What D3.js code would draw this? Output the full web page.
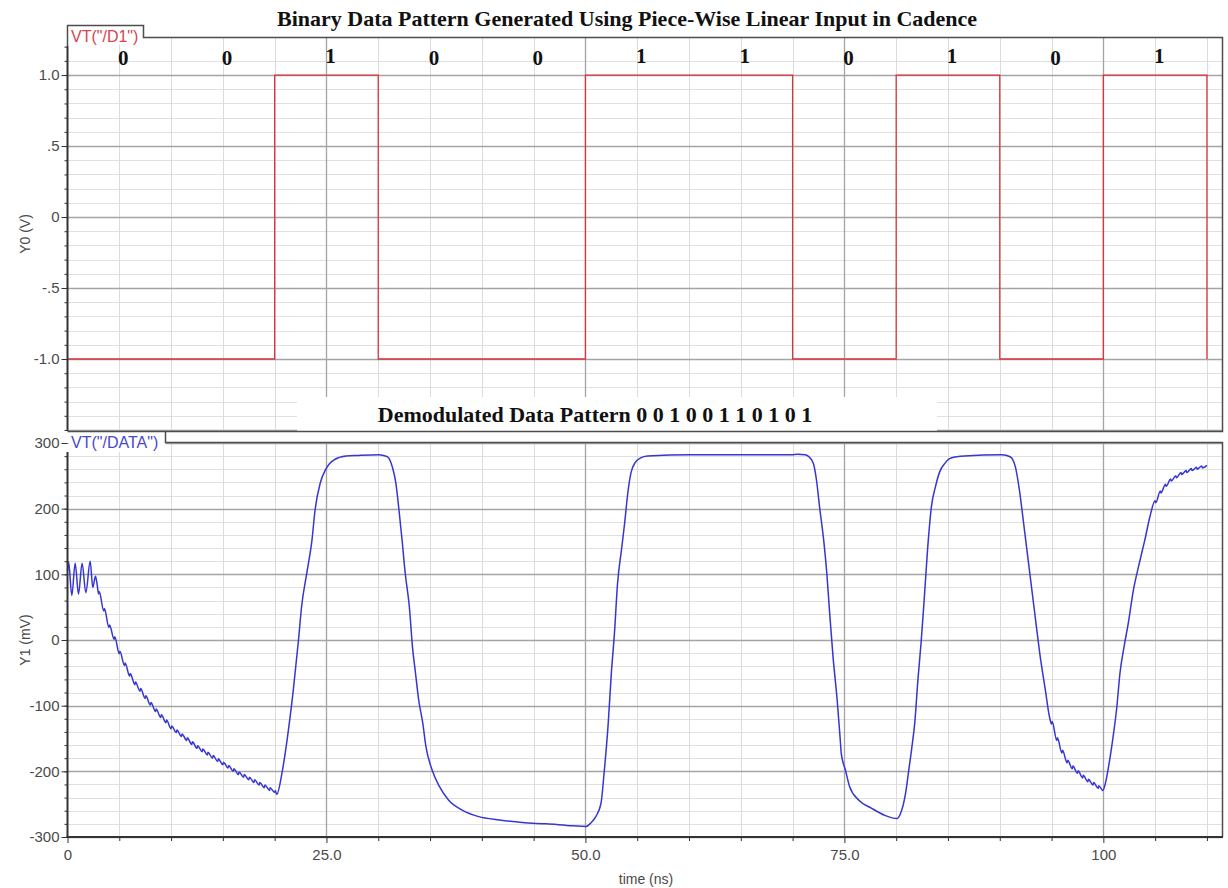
<!DOCTYPE html>
<html>
<head>
<meta charset="utf-8">
<script src="https://cdn.jsdelivr.net/npm/d3@7"></script>
<style>
  body { margin: 0; background: #ffffff; }
  svg { display: block; }
  .tick-label { font-family: "Liberation Sans", Arial, sans-serif; font-size: 15px; fill: #4a4a4a; }
  .axis-title { font-family: "Liberation Sans", Arial, sans-serif; font-size: 14px; fill: #4a4a4a; }
  .serif-bold { font-family: "Liberation Serif", "Times New Roman", serif; font-weight: bold; fill: #111; }
</style>
</head>
<body>
<svg id="chart" width="1228" height="888"></svg>
<script>
// ---- Stimulus: piece-wise linear source VT("/D1") ----
const d1Time  = [0, 20, 20, 30, 30, 50, 50, 70, 70, 80, 80, 90, 90, 100, 100, 110, 110];
const d1Volts = [-1, -1, 1, 1, -1, -1, 1, 1, -1, -1, 1, 1, -1, -1, 1, 1, -1];

// Bit sequence carried by the stimulus (one bit per 10 ns slot)
const bits = [0, 0, 1, 0, 0, 1, 1, 0, 1, 0, 1];
const bitSlotNs = 10;

// ---- Demodulated output VT("/DATA"): [time (ns), value (mV)] ----
const dataTrace = [
  [0.0, 105], [0.1, 119], [0.42, 68], [0.74, 117], [1.06, 70], [1.41, 117], [1.77, 72],
  [2.19, 120], [2.44, 80], [2.7, 97], [2.85, 86],
  [3.0, 70], [3.06, 74], [3.5, 44], [3.56, 48], [4.0, 19], [4.06, 23], [4.5, 1], [4.56, 5],
  [5.0, -21], [5.06, -17], [5.5, -39], [5.56, -35], [6.0, -55], [6.06, -51], [6.5, -68], [6.56, -64],
  [7.0, -78], [7.06, -74], [7.5, -89], [7.56, -85], [8.0, -99], [8.06, -95], [8.5, -109], [8.56, -105],
  [9.0, -118], [9.06, -114], [9.5, -126], [9.56, -122], [10.0, -135], [10.06, -131], [10.5, -141], [10.56, -137],
  [11.0, -147], [11.06, -143], [11.5, -153], [11.56, -149], [12.0, -159], [12.06, -155], [12.5, -165], [12.56, -161],
  [13.0, -170], [13.06, -166], [13.5, -175], [13.56, -171], [14.0, -180], [14.06, -176], [14.5, -185], [14.56, -181],
  [15.0, -190], [15.06, -186], [15.5, -195], [15.56, -191], [16.0, -200], [16.06, -196], [16.5, -205], [16.56, -201],
  [17.0, -209], [17.06, -205], [17.5, -213], [17.56, -209], [18.0, -217], [18.06, -213], [18.5, -221], [18.56, -217],
  [19.0, -225], [19.06, -221], [19.5, -229], [19.56, -225], [20.0, -232], [20.06, -229], [20.2, -235],
  [20.7, -203], [21.2, -152], [21.8, -76], [22.3, 0], [22.6, 51], [23.1, 102], [23.6, 152], [23.9, 198],
  [24.4, 239], [24.9, 259], [25.7, 274], [26.9, 280], [28.1, 281], [30.06, 282], [30.5, 281], [30.9, 279],
  [31.35, 264], [31.7, 239], [32.0, 198], [32.3, 152], [32.6, 102], [33.0, 51], [33.3, -10], [33.6, -51],
  [33.9, -91], [34.3, -127], [34.6, -162], [35.2, -198], [35.9, -223], [36.8, -244], [38.1, -259], [39.7, -269],
  [41.7, -274], [43.9, -278], [46.2, -280], [48.8, -283], [50.06, -284], [50.5, -279], [51.0, -269], [51.5, -249],
  [51.8, -203], [52.2, -127], [52.5, -51], [52.8, 10], [53.1, 86], [53.5, 140], [53.8, 180], [54.1, 225],
  [54.4, 255], [54.8, 270], [55.3, 277], [56.0, 280], [60.2, 282], [65.0, 282], [69.9, 282], [70.5, 283],
  [71.2, 282], [71.5, 280], [72.0, 269], [72.3, 244], [72.6, 203], [73.0, 152], [73.3, 102], [73.6, 36],
  [73.9, -25], [74.3, -91], [74.6, -152], [74.7, -173], [75.1, -198], [75.5, -223], [76.4, -244], [77.6, -256],
  [78.9, -267], [80.06, -272], [80.4, -265], [80.9, -234], [81.2, -200], [81.5, -165], [81.8, -125], [82.1, -60],
  [82.4, -5], [82.7, 61], [83.1, 152], [83.4, 203], [83.8, 234], [84.2, 256], [84.7, 269], [85.3, 277],
  [86.6, 280], [90.2, 282], [91.0, 279], [91.5, 264], [91.9, 228], [92.3, 178], [92.7, 127], [93.1, 76],
  [93.5, 25], [93.9, -25], [94.4, -76], [94.8, -117],
  [95.0, -128], [95.06, -124], [95.5, -153], [95.56, -149], [96.0, -172], [96.06, -168], [96.5, -187], [96.56, -183],
  [97.0, -196], [97.06, -192], [97.5, -203], [97.56, -199], [98.0, -210], [98.06, -206], [98.5, -216], [98.56, -212],
  [99.0, -221], [99.06, -217], [99.5, -226], [99.56, -222], [99.95, -229],
  [100.2, -218], [100.5, -193], [100.9, -152], [101.3, -102], [101.6, -51], [102.0, -10], [102.4, 25],
  [102.9, 76], [103.4, 112], [104.0, 152], [104.5, 188],
  [105.0, 212], [105.06, 209], [105.5, 227], [105.56, 224],
  [106.0, 237], [106.06, 234], [106.5, 245], [106.56, 242], [107.0, 250], [107.06, 247], [107.5, 255], [107.56, 252],
  [108.0, 258], [108.06, 255], [108.5, 261], [108.56, 258], [109.0, 263], [109.06, 260], [109.5, 265], [109.56, 262],
  [110.0, 266]
];

// ---- Axis ticks ----
const xTicks = [0, 25, 50, 75, 100];
const xTickLabels = ["0", "25.0", "50.0", "75.0", "100"];
const yTopTicks = [1.0, 0.5, 0, -0.5, -1.0];
const yTopTickLabels = ["1.0", ".5", "0", "-.5", "-1.0"];
const yBotTicks = [300, 200, 100, 0, -100, -200, -300];
const yBotTickLabels = ["300", "200", "100", "0", "-100", "-200", "-300"];

const mainTitle = "Binary Data Pattern Generated Using Piece-Wise Linear Input in Cadence";
const subTitle = "Demodulated Data Pattern " + bits.join(" ");

// ---- Layout ----
const left = 67.5, right = 1223;
const topBox = { y0: 37, y1: 431 };
const botBox = { y0: 442, y1: 837 };

const svg = d3.select("#chart");

const x = d3.scaleLinear().domain([0, 111.55]).range([left, right]);
const yTop = d3.scaleLinear().domain([-1.507, 1.268]).range([topBox.y1, topBox.y0]);
const yBot = d3.scaleLinear().domain([-300, 301.5]).range([botBox.y1, botBox.y0]);

const crisp = v => Math.round(v) + 0.5;

// grid for a panel
function drawGrid(y, box, minorStep, majorStep, lo, hi) {
  const g = svg.append("g");
  const minorY = d3.range(Math.ceil(lo / minorStep), Math.floor(hi / minorStep) + 1).map(k => k * minorStep);
  const isMajor = v => Math.abs(v / majorStep - Math.round(v / majorStep)) <= 1e-6;
  const vMinor = d3.range(5, 111, 5).filter(t => t % 25 !== 0);
  const vMajor = [25, 50, 75, 100];

  g.selectAll(".hmin").data(minorY.filter(v => !isMajor(v)))
    .join("line")
    .attr("x1", left).attr("x2", right)
    .attr("y1", d => crisp(y(d))).attr("y2", d => crisp(y(d)))
    .attr("stroke", "#e0e0e0").attr("stroke-width", 1);

  g.selectAll(".vmin").data(vMinor).join("line")
    .attr("x1", d => crisp(x(d))).attr("x2", d => crisp(x(d)))
    .attr("y1", box.y0).attr("y2", box.y1)
    .attr("stroke", "#dcdcdc").attr("stroke-width", 1);

  g.selectAll(".hmaj").data(minorY.filter(isMajor))
    .join("line")
    .attr("x1", left).attr("x2", right)
    .attr("y1", d => crisp(y(d))).attr("y2", d => crisp(y(d)))
    .attr("stroke", "#a4a4a4").attr("stroke-width", 1.3);

  g.selectAll(".vmaj").data(vMajor).join("line")
    .attr("x1", d => crisp(x(d))).attr("x2", d => crisp(x(d)))
    .attr("y1", box.y0).attr("y2", box.y1)
    .attr("stroke", "#a4a4a4").attr("stroke-width", 1.3);
}

drawGrid(yTop, topBox, 0.1, 0.5, -1.5, 1.2);
drawGrid(yBot, botBox, 20, 100, -300, 300);

// white band behind the second heading
svg.append("rect").attr("x", 297).attr("y", 397).attr("width", 640).attr("height", 34).attr("fill", "#ffffff");

// ---- Traces ----
const d1Points = d1Time.map((t, i) => [t, d1Volts[i]]);
svg.append("path")
  .datum(d1Points)
  .attr("fill", "none")
  .attr("stroke", "#d9343c")
  .attr("stroke-width", 1.3)
  .attr("d", d3.line().x(d => x(d[0])).y(d => yTop(d[1])));

svg.append("path")
  .datum(dataTrace)
  .attr("fill", "none")
  .attr("stroke", "#3636d4")
  .attr("stroke-width", 1.5)
  .attr("stroke-linejoin", "round")
  .attr("d", d3.line().curve(d3.curveMonotoneX).x(d => x(d[0])).y(d => yBot(d[1])));

// ---- Legend tabs (white label boxes at each panel's top-left corner) ----
svg.append("rect").attr("x", left).attr("y", 25.5).attr("width", 143.5 - left).attr("height", 19).attr("fill", "#fff");
svg.append("rect").attr("x", left + 1).attr("y", 432).attr("width", 165.5 - left - 1).attr("height", 20).attr("fill", "#fff");

// ---- Frames ----
const frame = svg.append("g").attr("fill", "none").attr("stroke", "#4d4d4d").attr("stroke-width", 1.5);
frame.append("path").attr("d", `M${left},46 V25.5 H143.5 V37.5 H${right - 0.5} V431.5 H${left}`);
frame.append("path").attr("d", `M165.5,431.5 V442.5 H${right - 0.5} V${botBox.y1}`);

// ---- Axes ----
function leftAxis(y, axisStart, axisEnd, majorVals, majorLabels, minorVals) {
  const g = svg.append("g");
  g.append("g")
    .attr("transform", `translate(${left},0)`)
    .call(d3.axisLeft(y).tickValues(minorVals).tickSize(3).tickFormat(""))
    .call(a => a.select(".domain").remove())
    .selectAll("line").attr("stroke", "#333");
  const major = g.append("g")
    .attr("transform", `translate(${left},0)`)
    .call(d3.axisLeft(y).tickValues(majorVals).tickSize(6).tickPadding(2)
      .tickFormat((d, i) => majorLabels[i]));
  major.select(".domain").remove();
  major.selectAll("line").attr("stroke", "#333");
  major.selectAll("text").attr("class", "tick-label").attr("font-size", null).attr("font-family", null);
  g.append("line").attr("x1", left).attr("x2", left).attr("y1", axisStart).attr("y2", axisEnd)
    .attr("stroke", "#333").attr("stroke-width", 2);
}

leftAxis(yTop, 46, topBox.y1, yTopTicks, yTopTickLabels, d3.range(-15, 13).map(k => k / 10));
leftAxis(yBot, 452, botBox.y1, yBotTicks, yBotTickLabels, d3.range(-15, 15).map(k => k * 20));

// bottom time axis
const xAxisG = svg.append("g").attr("transform", `translate(0,${botBox.y1})`);
xAxisG.call(d3.axisBottom(x).tickValues(d3.range(5, 111, 5).filter(t => t % 25 !== 0)).tickSize(4).tickFormat(""))
  .call(a => a.select(".domain").remove())
  .selectAll("line").attr("stroke", "#333");
const xMajor = svg.append("g").attr("transform", `translate(0,${botBox.y1})`)
  .call(d3.axisBottom(x).tickValues(xTicks).tickSize(6).tickPadding(6).tickFormat((d, i) => xTickLabels[i]));
xMajor.select(".domain").remove();
xMajor.selectAll("line").attr("stroke", "#333");
xMajor.selectAll("text").attr("class", "tick-label").attr("font-size", null).attr("font-family", null);
svg.append("line").attr("x1", left - 1).attr("x2", right).attr("y1", botBox.y1).attr("y2", botBox.y1)
  .attr("stroke", "#333").attr("stroke-width", 2);

// ---- Legend tab captions ----
svg.append("text").attr("x", 71).attr("y", 41.5)
  .attr("font-family", "Liberation Sans, Arial, sans-serif").attr("font-size", 16)
  .attr("fill", "#d8434f").text('VT("/D1")');
svg.append("text").attr("x", 71).attr("y", 447.5)
  .attr("font-family", "Liberation Sans, Arial, sans-serif").attr("font-size", 16)
  .attr("fill", "#4848cf").text('VT("/DATA")');

// ---- Axis titles ----
svg.append("text").attr("class", "axis-title").attr("text-anchor", "middle")
  .attr("transform", "translate(30,234) rotate(-90)").text("Y0 (V)");
svg.append("text").attr("class", "axis-title").attr("text-anchor", "middle")
  .attr("transform", `translate(30,${yBot(0)}) rotate(-90)`).text("Y1 (mV)");
svg.append("text").attr("class", "axis-title").attr("text-anchor", "middle")
  .attr("font-size", 15).attr("x", 646).attr("y", 884).text("time (ns)");

// ---- Headings ----
svg.append("text").attr("class", "serif-bold").attr("font-size", 22)
  .attr("text-anchor", "middle").attr("x", 627).attr("y", 26).text(mainTitle);
svg.append("text").attr("class", "serif-bold").attr("font-size", 22)
  .attr("text-anchor", "middle").attr("x", 595).attr("y", 422).text(subTitle);

// ---- Bit labels over each 10 ns slot ----
svg.append("g").selectAll("text").data(bits).join("text")
  .attr("class", "serif-bold")
  .attr("font-size", 21)
  .attr("text-anchor", "middle")
  .attr("x", (d, i) => x(i * bitSlotNs + bitSlotNs / 2) + 4)
  .attr("y", d => d === 1 ? 63 : 65)
  .text(d => d);
</script>
</body>
</html>
